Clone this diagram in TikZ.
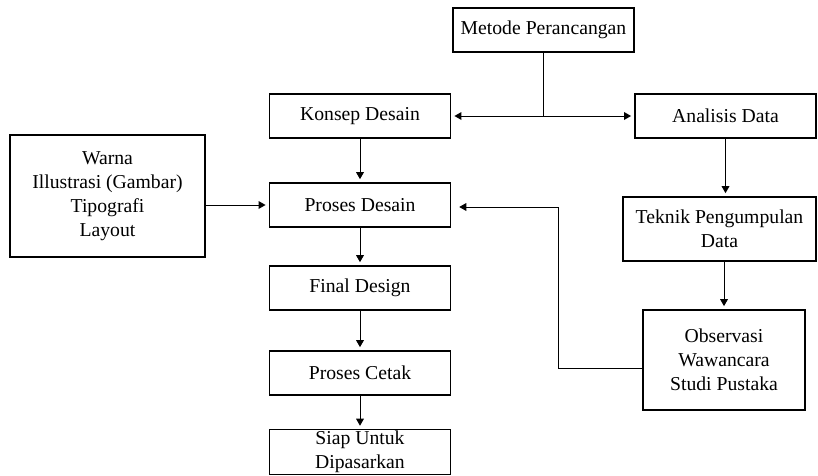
\documentclass[tikz,border=0pt]{standalone}
\usepackage{fontspec}
\setmainfont{Liberation Serif}
\usetikzlibrary{arrows.meta}

\tikzset{
  box/.style={draw, line width=0.9pt, align=center, inner sep=1pt,
    minimum width=4.53cm, minimum height=1.1cm},
  arr/.style={-{Triangle[length=5pt,width=5.5pt]}, line width=0.7pt, shorten >=0.08cm}
}

\begin{document}
\begin{tikzpicture}[x=0.025cm,y=-0.025cm,
    font=\fontsize{14}{17}\selectfont]

        \useasboundingbox (0,0) rectangle (818,475);

        %%% TOP
        \node[box] (metode) at (543.5,30) {Metode Perancangan};
        \node[box] (konsep) at (360,116) {Konsep Desain};
        \node[box] (analisis) at (725.5,116) {Analisis Data};

        %%% LEFT COLUMN
        \node[box, minimum width=4.88cm, minimum height=3.05cm] (warna) at (107.5,196)
            {Warna\\Illustrasi (Gambar)\\Tipografi\\Layout};
        \node[box] (prosesdesain) at (360,205) {Proses Desain};
        \node[box] (final) at (360,288) {Final Design};
        \node[box] (cetak) at (360,373) {Proses Cetak};
        \node[box, inner sep=0pt, minimum height=1.12cm] (siap) at (360,452)
            {Siap Untuk\\Dipasarkan};

        %%% RIGHT COLUMN
        \node[box, minimum width=4.83cm, minimum height=1.6cm] (teknik) at (719.5,229)
            {Teknik Pengumpulan\\Data};
        \node[box, minimum width=4.05cm, minimum height=2.5cm] (observasi) at (724,360)
            {Observasi\\Wawancara\\Studi Pustaka};

        %%% CONNECTORS
        \coordinate (split) at (metode.south |- konsep.east);
        \draw[line width=0.7pt] (metode.south) -- (split);
        \draw[arr] (split) -- (konsep.east);
        \draw[arr] (split) -- (analisis.west);

        \draw[arr] (konsep) -- (prosesdesain);
        \draw[arr] (prosesdesain.west -| warna.east) -- (prosesdesain.west);
        \draw[arr] (prosesdesain) -- (final);
        \draw[arr] (final) -- (cetak);
        \draw[arr] (cetak) -- (siap);

        \draw[arr] (analisis.south) -- (analisis.south |- teknik.north);
        \draw[arr] (observasi.north |- teknik.south) -- (observasi.north);

        % back to Proses Desain
        \coordinate (back) at (558,207);
        \draw[arr, shorten >=0.2cm] ([yshift=-0.2cm]observasi.west) -| (back)
            -- (prosesdesain.east |- back);

\end{tikzpicture}
\end{document}
